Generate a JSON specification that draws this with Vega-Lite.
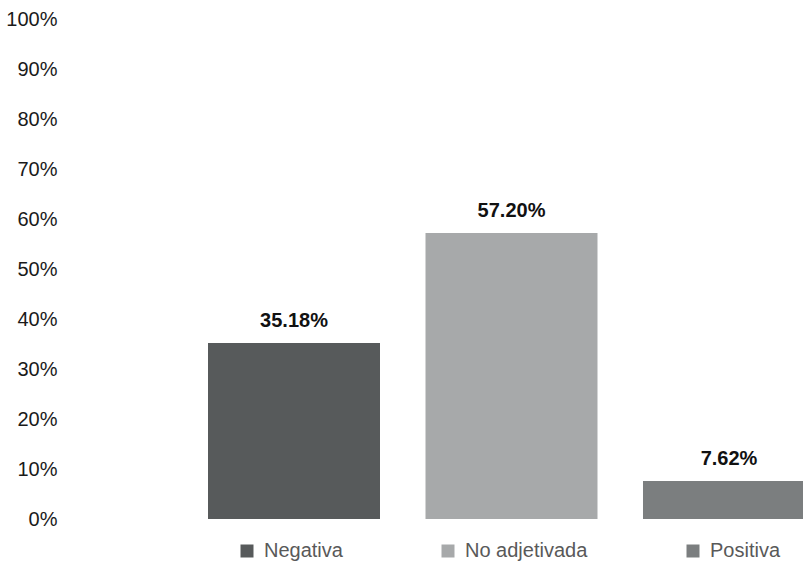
{
  "$schema": "https://vega.github.io/schema/vega-lite/v6.json",
  "width": 738,
  "height": 500,
  "autosize": {"type": "none"},
  "padding": {"left": 65, "top": 19, "right": 0, "bottom": 45},
  "background": "white",
  "config": {
    "view": {"stroke": null},
    "font": "Liberation Sans, Arial, sans-serif"
  },
  "data": {
    "values": [
      {"categoria": "Negativa", "valor": 0.3518},
      {"categoria": "No adjetivada", "valor": 0.572},
      {"categoria": "Positiva", "valor": 0.0762}
    ]
  },
  "encoding": {
    "x": {
      "field": "categoria",
      "type": "nominal",
      "sort": null,
      "scale": {"range": [0, 893], "paddingInner": 0.2092, "paddingOuter": 0.6575},
      "axis": null
    },
    "y": {
      "field": "valor",
      "type": "quantitative",
      "scale": {"domain": [0, 1]},
      "axis": {
        "values": [0, 0.1, 0.2, 0.3, 0.4, 0.5, 0.6, 0.7, 0.8, 0.9, 1],
        "format": ".0%",
        "title": null,
        "grid": false,
        "domain": false,
        "ticks": false,
        "labelPadding": 8,
        "labelFontSize": 20,
        "labelColor": "#1a1a1a",
        "labelFont": "Liberation Sans, Arial, sans-serif"
      }
    }
  },
  "layer": [
    {
      "mark": {"type": "bar", "clip": true},
      "encoding": {
        "color": {
          "field": "categoria",
          "type": "nominal",
          "sort": null,
          "scale": {"range": ["#575a5b", "#a7a9aa", "#7b7e7f"]},
          "legend": {
            "title": null,
            "orient": "none",
            "legendX": 172,
            "legendY": 522,
            "direction": "horizontal",
            "columnPadding": 95,
            "symbolType": "square",
            "symbolSize": 169,
            "symbolStrokeWidth": 0,
            "symbolOpacity": 1,
            "labelFontSize": 20,
            "labelColor": "#595959",
            "labelOffset": 7,
            "labelFont": "Liberation Sans, Arial, sans-serif"
          }
        }
      }
    },
    {
      "mark": {
        "type": "text",
        "dy": -22,
        "fontSize": 20,
        "fontWeight": "bold",
        "color": "#111111"
      },
      "encoding": {
        "text": {"field": "valor", "type": "quantitative", "format": ".2%"}
      }
    }
  ]
}
